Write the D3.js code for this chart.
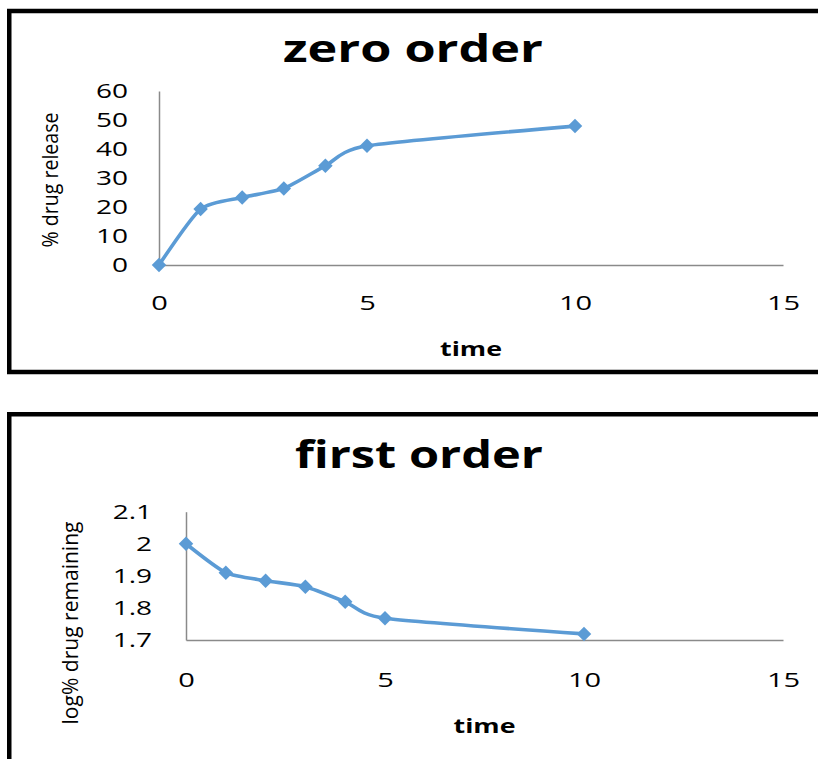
<!DOCTYPE html>
<html>
<head>
<meta charset="utf-8">
<script src="https://cdn.jsdelivr.net/npm/d3@7"></script>
<style>
  body { margin: 0; background: #fff; }
  text { font-family: "Open Sans", sans-serif; fill: #000; }
</style>
</head>
<body>
<div id="chart"></div>
<script>
// values
const time = [0, 1, 2, 3, 4, 5, 10];
const drugRelease = [0, 19.3, 23.3, 26.4, 34.2, 41.1, 47.9];
const logRemaining = [2.0, 1.91, 1.885, 1.866, 1.819, 1.768, 1.719];

const timeTicks = [0, 5, 10, 15];
const releaseTicks = [0, 10, 20, 30, 40, 50, 60];
const remainingTicks = [1.7, 1.8, 1.9, 2, 2.1];

const width = 818;
const height = 759;
const lineColor = "#5b9bd5";
const axisColor = "#8a8a8a";

const svg = d3.select("#chart").append("svg")
  .attr("width", width)
  .attr("height", height)
  .style("display", "block");

svg.append("rect").attr("width", width).attr("height", height).attr("fill", "#fff");

// the original text is stretched sideways, so force widths
function fitWidth(sel, w) {
  sel.attr("textLength", w).attr("lengthAdjust", "spacingAndGlyphs");
}
function stretch(sel, k) {
  sel.each(function() {
    const w = this.getComputedTextLength();
    d3.select(this).attr("textLength", w * k).attr("lengthAdjust", "spacingAndGlyphs");
  });
}

function panel(p) {
  const g = svg.append("g");

  // frame
  g.append("rect")
    .attr("x", 9.25).attr("y", p.boxTop)
    .attr("width", 900).attr("height", p.boxHeight)
    .attr("fill", "none").attr("stroke", "#000").attr("stroke-width", 4.5);

  const x = d3.scaleLinear().domain([0, 15]).range([p.left, 783]);
  const y = d3.scaleLinear().domain(p.yDomain).range([p.bottom, p.top]);

  g.append("text")
    .attr("x", p.titleX).attr("y", p.titleY)
    .attr("text-anchor", "middle")
    .style("font-size", "37px").style("font-weight", 700)
    .text(p.title)
    .call(fitWidth, p.titleW);

  g.append("g")
    .attr("transform", `translate(0,${p.bottom})`)
    .call(d3.axisBottom(x).tickValues(timeTicks).tickSize(0).tickPadding(p.xPad))
    .call(a => a.select(".domain").attr("stroke", axisColor).attr("stroke-width", 1.5))
    .call(a => a.selectAll("text").attr("fill", "#111").style("font-size", "20px").style("font-family", "Open Sans").call(stretch, 1.45));

  g.append("g")
    .attr("transform", `translate(${p.left},0)`)
    .call(d3.axisLeft(y).tickValues(p.yTicks).tickSize(0).tickPadding(p.yPad).tickFormat(d => String(d)))
    .call(a => a.select(".domain").attr("stroke", axisColor).attr("stroke-width", 1.5))
    .call(a => a.selectAll("text").attr("fill", "#111").style("font-size", "20px").style("font-family", "Open Sans").call(stretch, 1.4));

  g.append("text")
    .attr("x", (p.left + 783) / 2).attr("y", p.bottom + p.timeGap)
    .attr("text-anchor", "middle")
    .style("font-size", "19px").style("font-weight", 700)
    .text("time")
    .call(fitWidth, 62);

  g.append("text")
    .attr("transform", `translate(${p.yLabelX},${p.yLabelY}) rotate(-90)`)
    .attr("text-anchor", "middle")
    .attr("dy", "0.35em")
    .style("font-size", "22px")
    .text(p.yLabel)
    .call(fitWidth, p.yLabelW);

  const pts = time.map((t, i) => [t, p.values[i]]);

  // smoothed line like the spreadsheet's
  g.append("path")
    .datum(pts)
    .attr("fill", "none")
    .attr("stroke", lineColor)
    .attr("stroke-width", 3.6)
    .attr("stroke-linejoin", "round")
    .attr("d", d3.line().x(d => x(d[0])).y(d => y(d[1])).curve(d3.curveCardinal.tension(0.35)));

  g.selectAll(".marker")
    .data(pts)
    .join("path")
    .attr("class", "marker")
    .attr("transform", d => `translate(${x(d[0])},${y(d[1])}) rotate(45)`)
    .attr("d", d3.symbol(d3.symbolSquare, 105))
    .attr("fill", lineColor);
}

panel({
  boxTop: 11, boxHeight: 361,
  title: "zero order", titleX: 413, titleY: 62, titleW: 260,
  left: 159, top: 91, bottom: 265,
  yDomain: [0, 60], yTicks: releaseTicks, values: drugRelease,
  xPad: 31, yPad: 31, timeGap: 91,
  yLabel: "% drug release", yLabelX: 50, yLabelY: 180, yLabelW: 135
});

panel({
  boxTop: 414.25, boxHeight: 500,
  title: "first order", titleX: 419, titleY: 468, titleW: 248,
  left: 186, top: 511.7, bottom: 640,
  yDomain: [1.7, 2.1], yTicks: remainingTicks, values: logRemaining,
  xPad: 33, yPad: 34, timeGap: 93,
  yLabel: "log% drug remaining", yLabelX: 70, yLabelY: 623, yLabelW: 203
});
</script>
</body>
</html>
